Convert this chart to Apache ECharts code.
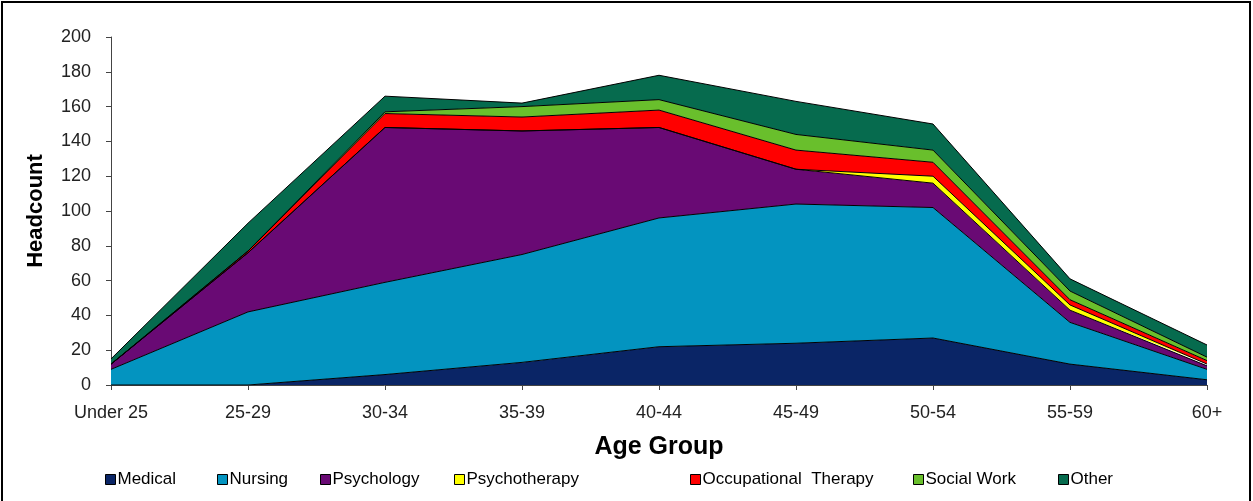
<!DOCTYPE html>
<html>
<head>
<meta charset="utf-8">
<script src="https://cdn.jsdelivr.net/npm/echarts@6/dist/echarts.min.js"></script>
<style>
  html, body { margin: 0; padding: 0; background: #fff; }
  #chart { width: 1253px; height: 501px; }
</style>
</head>
<body>
<div id="chart"></div>
<script>
// age groups on the x axis
const ageGroups = ['Under 25', '25-29', '30-34', '35-39', '40-44', '45-49', '50-54', '55-59', '60+'];

// headcount per profession (stacked)
const medical       = [0, 0, 6, 13, 22, 24, 27, 12, 3];
const nursing       = [9, 42, 53, 62, 74, 80, 75, 24, 6];
const psychology    = [3, 34, 89, 71, 52, 20, 14, 7, 2];
const psychotherapy = [0, 0, 0, 0, 0, 0, 4, 3, 1];
const occTherapy    = [0, 1, 8, 8, 10, 11, 8, 3, 2];
const socialWork    = [0, 0, 1, 6, 6, 9, 7, 5, 2];
const other         = [3, 16, 9, 2, 14, 19, 15, 7, 7];

const yTicks = [0, 20, 40, 60, 80, 100, 120, 140, 160, 180, 200];

const font = 'Liberation Sans, Arial, sans-serif';

const layers = [
  { name: 'Medical', data: medical, color: '#0a2566', legendX: 105 },
  { name: 'Nursing', data: nursing, color: '#0394c0', legendX: 217 },
  { name: 'Psychology', data: psychology, color: '#690a74', legendX: 320 },
  { name: 'Psychotherapy', data: psychotherapy, color: '#ffff00', legendX: 454 },
  { name: 'Occupational  Therapy', data: occTherapy, color: '#ff0000', legendX: 690 },
  { name: 'Social Work', data: socialWork, color: '#69bf2c', legendX: 913 },
  { name: 'Other', data: other, color: '#066b4e', legendX: 1058 }
];

let chart = echarts.init(document.getElementById('chart'));

let option = {
  animation: false,
  backgroundColor: '#fff',
  textStyle: { fontFamily: font },
  grid: { left: 111, right: 46, top: 37, bottom: 116 },
  xAxis: {
    type: 'category',
    boundaryGap: false,
    data: ageGroups,
    name: 'Age Group',
    nameLocation: 'middle',
    nameGap: 50,
    nameTextStyle: { fontSize: 25, fontWeight: 'bold', color: '#000', fontFamily: font },
    axisLine: { lineStyle: { color: '#444', width: 1 } },
    axisTick: { show: true, length: 5, alignWithLabel: true, lineStyle: { color: '#444' } },
    axisLabel: { fontSize: 18, color: '#222', margin: 19, fontFamily: font },
    splitLine: { show: false }
  },
  yAxis: {
    type: 'value',
    min: yTicks[0],
    max: yTicks[yTicks.length - 1],
    interval: 20,
    name: 'Headcount',
    nameLocation: 'middle',
    nameGap: 64,
    nameRotate: 90,
    nameTextStyle: { fontSize: 22, fontWeight: 'bold', color: '#000', fontFamily: font },
    axisLine: { show: true, lineStyle: { color: '#444', width: 1 } },
    axisTick: { show: true, length: 5, lineStyle: { color: '#444' } },
    axisLabel: { fontSize: 18, color: '#222', margin: 20, fontFamily: font },
    splitLine: { show: false }
  },
  legend: layers.map(l => ({
    data: [l.name],
    left: l.legendX,
    top: 471,
    icon: 'rect',
    itemWidth: 10,
    itemHeight: 10,
    itemGap: 0,
    padding: 0,
    itemStyle: { borderColor: '#000', borderWidth: 1 },
    textStyle: { fontSize: 17, color: '#000', fontFamily: font, padding: [0, 0, 0, -3] }
  })),
  series: layers.map(l => ({
    name: l.name,
    type: 'line',
    stack: 'total',
    data: l.data,
    symbol: 'none',
    color: l.color,
    lineStyle: { color: '#000', width: 1 },
    areaStyle: { color: l.color, opacity: 1 },
    emphasis: { disabled: true }
  })),
  graphic: [{
    type: 'rect',
    shape: { x: 2, y: 2, width: 1248, height: 520 },
    style: { fill: null, stroke: '#000', lineWidth: 2 },
    silent: true
  }]
};

chart.setOption(option);
</script>
</body>
</html>
